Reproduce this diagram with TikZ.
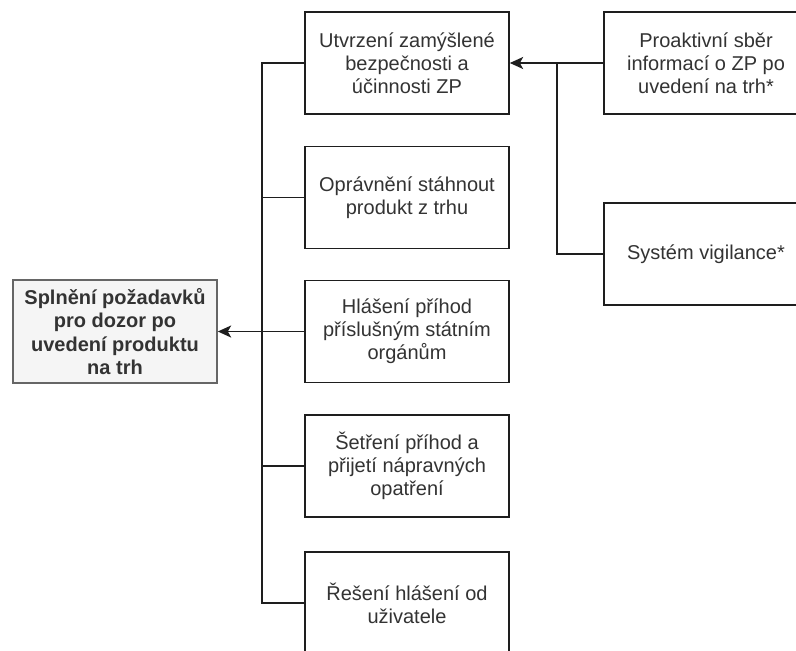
\documentclass[tikz,border=0pt]{standalone}
\usepackage{fontspec}
\setmainfont{Liberation Sans}
\usetikzlibrary{arrows.meta,positioning}
\definecolor{DzInk}{RGB}{30,30,30}
\definecolor{DzText}{RGB}{51,51,51}
\definecolor{DzGoalFill}{RGB}{245,245,245}
\definecolor{DzGoalLine}{RGB}{102,102,102}
\tikzset{
  dz/box/.style={
    draw=DzInk,
    line width=1.2pt,
    fill=white,
    align=center,
    text=DzText,
    minimum width=153pt,
    minimum height=76.5pt,
    inner sep=2pt,
    font=\fontsize{15}{17.25}\selectfont
  },
  dz/goal/.style={
    dz/box,
    draw=DzGoalLine,
    fill=DzGoalFill,
    minimum height=77pt,
    font=\fontsize{15}{17.5}\selectfont\bfseries
  },
  dz/line/.style={line width=1.3pt, draw=DzInk},
  dz/arrow/.style={dz/line, -{Stealth[length=10pt,width=9pt,inset=2.5pt]}}
}
\begin{document}
\begin{tikzpicture}[x=0.75pt,y=-0.75pt]
  \useasboundingbox (0,0) rectangle (796,650);
  % left: goal
  \node[dz/goal] (goal) at (115,331.5) {Splnění požadavků\\pro dozor po\\uvedení produktu\\na trh};
  % middle column
  \node[dz/box] (safety) at (407,63) {Utvrzení zamýšlené\\bezpečnosti a\\účinnosti ZP};
  \node[dz/box] (withdraw) at (407,197.5) {Oprávnění stáhnout\\produkt z trhu};
  \node[dz/box] (report) at (407,331.5) {Hlášení příhod\\příslušným státním\\orgánům};
  \node[dz/box] (investigate) at (407,466) {Šetření příhod a\\přijetí nápravných\\opatření};
  \node[dz/box] (userrep) at (407,603) {Řešení hlášení od\\uživatele};
  % right column
  \node[dz/box] (proactive) at (706,63) {Proaktivní sběr\\informací o ZP po\\uvedení na trh*};
  \node[dz/box] (vigil) at (706,254) {Systém vigilance*};
  \coordinate (trunk) at (262,0);
  \coordinate (branch) at (557,63);
  % connectors
  \draw[dz/line] (safety.west) -| (trunk |- userrep.west) -- (userrep.west);
  \draw[dz/line] (withdraw.west) -- (trunk |- withdraw.west);
  \draw[dz/line] (investigate.west) -- (trunk |- investigate.west);
  \draw[dz/arrow] (report.west) -- (goal.east);
  \draw[dz/arrow] (proactive.west) -- (safety.east);
  \draw[dz/line] (vigil.west) -| (branch);
\end{tikzpicture}
\end{document}
